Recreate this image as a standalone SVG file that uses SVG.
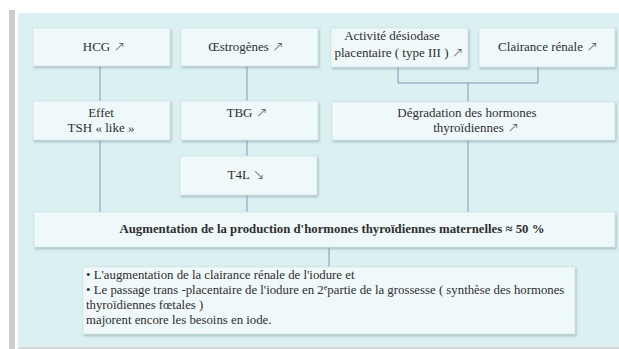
<svg xmlns="http://www.w3.org/2000/svg" width="619" height="349" viewBox="0 0 619 349">
<defs>
<filter id="sh" x="-5%" y="-10%" width="110%" height="130%">
<feDropShadow dx="1" dy="1.5" stdDeviation="1" flood-color="#6f8f94" flood-opacity="0.55"/>
</filter>
</defs>
<style>
.box{fill:#f0f9fa;stroke:#d2e6e8;stroke-width:0.8;filter:url(#sh)}
.t{font-family:"Liberation Serif","DejaVu Serif",serif;font-size:13px;fill:#2e2e2e;text-anchor:middle}
.b{font-weight:bold;font-size:12.8px}
.a{font-family:"DejaVu Sans",sans-serif;font-size:14px;font-weight:200;fill:#555}
.l{font-family:"Liberation Serif","DejaVu Serif",serif;font-size:12.8px;fill:#2e2e2e}
.c{fill:none;stroke:#8493b6;stroke-width:1}
</style>
<rect x="0" y="0" width="619" height="349" fill="#ffffff"/>
<rect x="9" y="10" width="6" height="339" fill="#cbcdce"/>
<rect x="18" y="13" width="601" height="334" fill="#dbf0f0"/>
<rect x="18" y="347" width="601" height="2" fill="#d4d6d6"/>
<g id="connectors">
<path class="c" d="M100 66V101M100 140V212M247 66V101M247 140V156M247 195V212M398 67V83H538V67M468 83V102M468 140V212M329 247V267"/>
</g>
<g id="hcg"><rect class="box" x="33" y="28" width="137" height="38"/><text class="t" x="104" y="51">HCG <tspan class="a">↗</tspan></text></g>
<g id="oestrogenes"><rect class="box" x="181" y="28" width="137" height="38"/><text class="t" x="246" y="51">Œstrogènes <tspan class="a">↗</tspan></text></g>
<g id="desiodase"><rect class="box" x="331" y="28" width="137" height="39"/><text class="t" x="392" y="40">Activité désiodase</text><text class="t" x="399" y="57">placentaire ( type III ) <tspan class="a">↗</tspan></text></g>
<g id="clairance"><rect class="box" x="479" y="28" width="136" height="39"/><text class="t" x="548" y="51">Clairance rénale <tspan class="a">↗</tspan></text></g>
<g id="effet"><rect class="box" x="33" y="101" width="137" height="39"/><text class="t" x="101" y="117">Effet</text><text class="t" x="101" y="132">TSH « like »</text></g>
<g id="tbg"><rect class="box" x="181" y="101" width="137" height="39"/><text class="t" x="247" y="117">TBG <tspan class="a">↗</tspan></text></g>
<g id="degradation"><rect class="box" x="332" y="102" width="283" height="38"/><text class="t" x="467" y="117">Dégradation des hormones</text><text class="t" x="476" y="132">thyroïdiennes <tspan class="a">↗</tspan></text></g>
<g id="t4l"><rect class="box" x="180" y="156" width="137" height="39"/><text class="t" x="246" y="179">T4L <tspan class="a">↘</tspan></text></g>
<g id="augmentation"><rect class="box" x="34" y="212" width="581" height="35"/><text class="t b" x="332" y="233">Augmentation de la production d'hormones thyroïdiennes maternelles ≈ 50 %</text></g>
<g id="iode"><rect class="box" x="83" y="267" width="492" height="67"/>
<text class="l" x="86" y="279">• L'augmentation de la clairance rénale de l'iodure et</text>
<text class="l" x="86" y="294">• Le passage trans -placentaire de l'iodure en 2<tspan dy="-4" font-size="8">e</tspan><tspan dy="4">partie de la grossesse ( synthèse des hormones</tspan></text>
<text class="l" x="86" y="309">thyroïdiennes fœtales )</text>
<text class="l" x="86" y="324">majorent encore les besoins en iode.</text>
</g>
</svg>
